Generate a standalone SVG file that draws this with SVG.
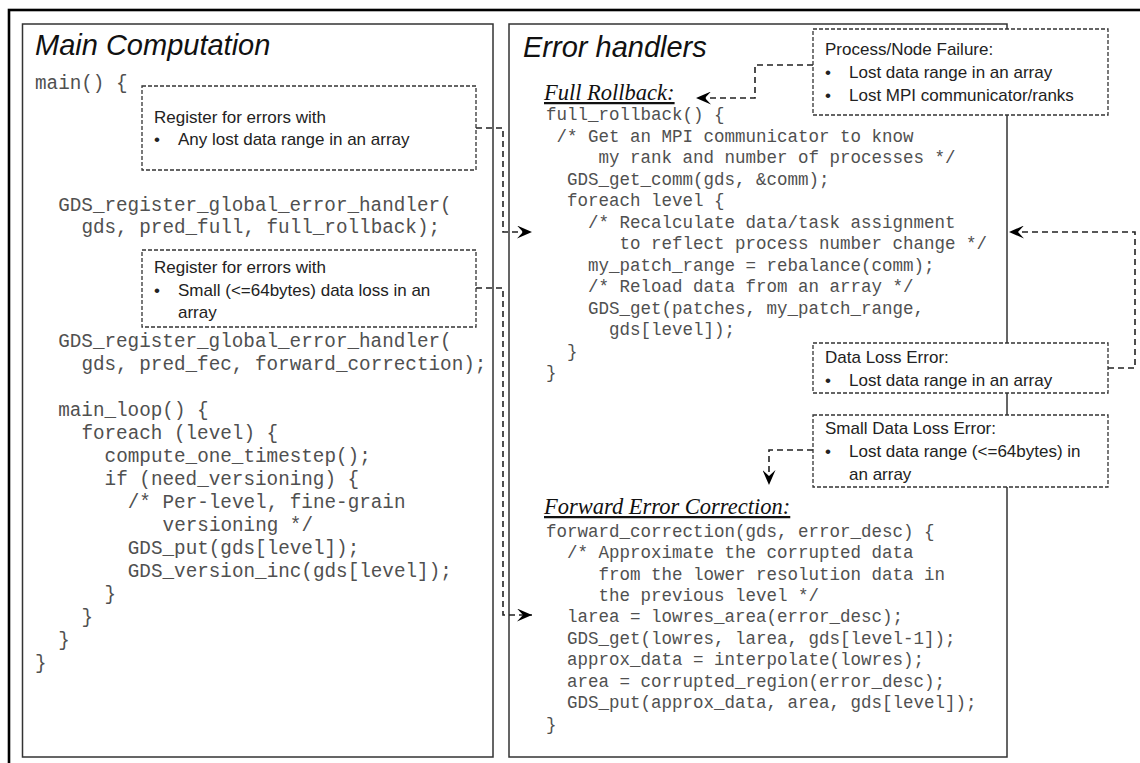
<svg xmlns="http://www.w3.org/2000/svg" width="1140" height="763" viewBox="0 0 1140 763">
<defs>
<style>
.frame{fill:none;stroke:#000;stroke-width:2.6}
.panel{fill:#fff;stroke:#333;stroke-width:1.5}
.title{font-family:"Liberation Sans",Arial,sans-serif;font-style:italic;font-size:29px;fill:#111}
.sub{font-family:"Liberation Serif","Times New Roman",serif;font-style:italic;font-size:22.5px;fill:#111;text-decoration:underline}
.codeL{font-family:"Liberation Mono","Courier New",monospace;font-size:19.3px;fill:#505050}
.codeR{font-family:"Liberation Mono","Courier New",monospace;font-size:17.5px;fill:#505050}
.note{fill:#fff;stroke:#333;stroke-width:1.3;stroke-dasharray:4 2}
.nt{font-family:"Liberation Sans",Arial,sans-serif;font-size:17px;fill:#222}
.conn{fill:none;stroke:#222;stroke-width:1.6;stroke-dasharray:6 4}
</style>
<marker id="chev" viewBox="0 0 15 13" refX="15" refY="6.5" markerWidth="15" markerHeight="13" markerUnits="userSpaceOnUse" orient="auto">
<path d="M0,0 L15,6.5 L0,13 L6,6.5 Z" fill="#000"/>
</marker>
</defs>
<rect width="1140" height="763" fill="#fff"/>
<rect class="frame" x="9" y="10" width="1150" height="780"/>

<g id="main-panel">
<rect class="panel" x="22.5" y="24" width="470.5" height="733"/>
<text class="title" x="35" y="55">Main Computation</text>
<text class="codeL" x="35" y="89">main() {</text>
<text class="codeL" x="58.2" y="211">GDS_register_global_error_handler(</text>
<text class="codeL" x="81.4" y="233">gds, pred_full, full_rollback);</text>
<text class="codeL" x="58.2" y="347">GDS_register_global_error_handler(</text>
<text class="codeL" x="81.4" y="370">gds, pred_fec, forward_correction);</text>
<text class="codeL" x="58.2" y="416">main_loop() {</text>
<text class="codeL" x="81.4" y="439">foreach (level) {</text>
<text class="codeL" x="104.6" y="462">compute_one_timestep();</text>
<text class="codeL" x="104.6" y="485">if (need_versioning) {</text>
<text class="codeL" x="127.8" y="508">/* Per-level, fine-grain</text>
<text class="codeL" x="162.6" y="531">versioning */</text>
<text class="codeL" x="127.8" y="554">GDS_put(gds[level]);</text>
<text class="codeL" x="127.8" y="577">GDS_version_inc(gds[level]);</text>
<text class="codeL" x="104.6" y="600">}</text>
<text class="codeL" x="81.4" y="623">}</text>
<text class="codeL" x="58.2" y="646">}</text>
<text class="codeL" x="35" y="669">}</text>
</g>

<g id="handlers-panel">
<rect class="panel" x="509" y="24" width="498" height="733"/>
<text class="title" x="523" y="57">Error handlers</text>
<text class="sub" x="544" y="100">Full Rollback:</text>
<text class="codeR" x="546" y="120">full_rollback() {</text>
<text class="codeR" x="556.5" y="141.5">/* Get an MPI communicator to know</text>
<text class="codeR" x="598.5" y="163">my rank and number of processes */</text>
<text class="codeR" x="567" y="184.5">GDS_get_comm(gds, &amp;comm);</text>
<text class="codeR" x="567" y="206">foreach level {</text>
<text class="codeR" x="588" y="227.5">/* Recalculate data/task assignment</text>
<text class="codeR" x="619.5" y="249">to reflect process number change */</text>
<text class="codeR" x="588" y="270.5">my_patch_range = rebalance(comm);</text>
<text class="codeR" x="588" y="292">/* Reload data from an array */</text>
<text class="codeR" x="588" y="313.5">GDS_get(patches, my_patch_range,</text>
<text class="codeR" x="609" y="335">gds[level]);</text>
<text class="codeR" x="567" y="356.5">}</text>
<text class="codeR" x="546" y="378">}</text>
<text class="sub" x="544" y="514">Forward Error Correction:</text>
<text class="codeR" x="546" y="537">forward_correction(gds, error_desc) {</text>
<text class="codeR" x="567" y="558">/* Approximate the corrupted data</text>
<text class="codeR" x="598.5" y="579.5">from the lower resolution data in</text>
<text class="codeR" x="598.5" y="601">the previous level */</text>
<text class="codeR" x="567" y="622">larea = lowres_area(error_desc);</text>
<text class="codeR" x="567" y="643.5">GDS_get(lowres, larea, gds[level-1]);</text>
<text class="codeR" x="567" y="665">approx_data = interpolate(lowres);</text>
<text class="codeR" x="567" y="686.5">area = corrupted_region(error_desc);</text>
<text class="codeR" x="567" y="708">GDS_put(approx_data, area, gds[level]);</text>
<text class="codeR" x="546" y="729.5">}</text>
</g>

<g id="connectors">
<path class="conn" d="M476,128 H503 V232 H532" marker-end="url(#chev)"/>
<path class="conn" d="M476,288 H503 V615 H532" marker-end="url(#chev)"/>
<path class="conn" d="M813,65 H755 V98 H696" marker-end="url(#chev)"/>
<path class="conn" d="M1108,368 H1135 V232 H1009" marker-end="url(#chev)"/>
<path class="conn" d="M813,450 H769 V485" marker-end="url(#chev)"/>
</g>

<g id="reg-full">
<rect class="note" x="142" y="86" width="334" height="84"/>
<text class="nt" x="154" y="123">Register for errors with</text>
<text class="nt" x="154" y="145">•</text>
<text class="nt" x="178" y="145">Any lost data range in an array</text>
</g>

<g id="reg-fec">
<rect class="note" x="142" y="250" width="334" height="77"/>
<text class="nt" x="154" y="273">Register for errors with</text>
<text class="nt" x="154" y="296">•</text>
<text class="nt" x="178" y="296">Small (&lt;=64bytes) data loss in an</text>
<text class="nt" x="178" y="318">array</text>
</g>

<g id="process-failure">
<rect class="note" x="813" y="29" width="295" height="86"/>
<text class="nt" x="825" y="55">Process/Node Failure:</text>
<text class="nt" x="825" y="78">•</text>
<text class="nt" x="849" y="78">Lost data range in an array</text>
<text class="nt" x="825" y="101">•</text>
<text class="nt" x="849" y="101">Lost MPI communicator/ranks</text>
</g>

<g id="data-loss">
<rect class="note" x="813" y="343" width="295" height="50"/>
<text class="nt" x="825" y="363">Data Loss Error:</text>
<text class="nt" x="825" y="386">•</text>
<text class="nt" x="849" y="386">Lost data range in an array</text>
</g>

<g id="small-data-loss">
<rect class="note" x="813" y="415" width="295" height="72"/>
<text class="nt" x="825" y="434">Small Data Loss Error:</text>
<text class="nt" x="825" y="457">•</text>
<text class="nt" x="849" y="457">Lost data range (&lt;=64bytes) in</text>
<text class="nt" x="849" y="480">an array</text>
</g>
</svg>
